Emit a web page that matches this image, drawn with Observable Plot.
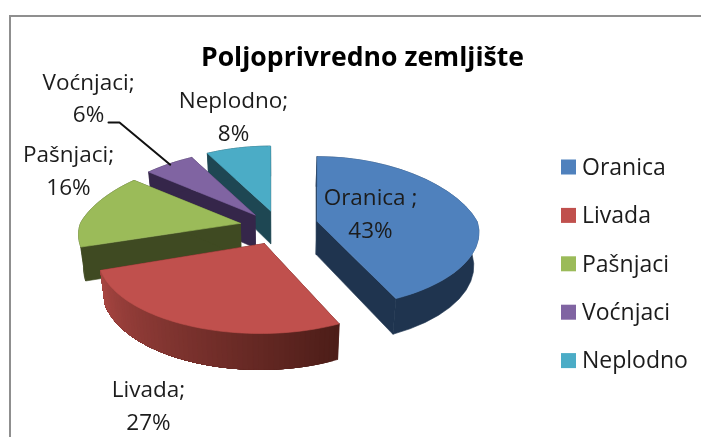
<!DOCTYPE html>
<html>
<head>
<meta charset="utf-8">
<script src="https://cdn.jsdelivr.net/npm/d3@7"></script>
<script src="https://cdn.jsdelivr.net/npm/@observablehq/plot@0.6"></script>
<style>
  html, body { margin: 0; padding: 0; background: #fff; overflow: hidden; }
  #wrap { position: relative; width: 701px; height: 437px; filter: blur(0.45px); }
  #frame { position: absolute; left: 9px; top: 15px; right: -4px; bottom: -4px; border: 2px solid #8f8f8f; box-sizing: border-box; }
  #chart { position: absolute; left: 0; top: 0; }
  svg { display: block; background: transparent; }
</style>
</head>
<body>
<div id="wrap"><div id="frame"></div><div id="chart"></div></div>
<script>
// Data
const chartTitle = "Poljoprivredno zemljište";
const categories = ["Oranica", "Livada", "Pašnjaci", "Voćnjaci", "Neplodno"];
const shares = [43, 27, 16, 6, 8];
const labelNames = ["Oranica ;", "Livada;", "Pašnjaci;", "Voćnjaci;", "Neplodno;"];

// Styles
const topColors = ["#4F81BD", "#C0504D", "#9BBB59", "#8064A2", "#4BACC6"];
const wallStart = ["#1F344F", "#4C1D18", "#3F4A22", "#35264A", "#1E4753"];
const wallEnd = ["#1F344F", "#A84642", "#3F4A22", "#35264A", "#1E4753"];

// Layout of the 3D pie
const centre = [276, 226];
const explode = [0.26, 0.27, 0.23, 0.24, 0.25];
const nudge = [[0, -1], [1, 2], [0, 0], [3, 2], [4, 2]];
const apexShift = [[0, 0], [4, -3], [0, 0], [0, 0], [0, 0]];
const rx = 160, ry = 73, depth = 33, vanishX = 275;
const paintOrder = [4, 3, 2, 0, 1];
const labelAnchors = [[370, 210.5], [148, 402.5], [68, 167.5], [88, 95], [233, 113.5]];
const legendX = 561, legendTop = 167, legendStep = 48.4, legendSize = 15;

const arcs = d3.pie().sort(null).startAngle(0).endAngle(2 * Math.PI)(shares);
const apex = arcs.map((a, i) => {
  const m = (a.startAngle + a.endAngle) / 2;
  return [
    centre[0] + rx * explode[i] * Math.sin(m) + nudge[i][0],
    centre[1] - ry * explode[i] * Math.cos(m) + nudge[i][1]
  ];
});
function topPt(i, th, r) {
  const u = r * Math.sin(th), v = r * Math.cos(th);
  const sx = 1 / (1 + (v > 0 ? 0.25 : 0.15) * v);
  const sy = 1 / (1 + (v > 0 ? 0.128 : 0.16) * v);
  const sh = r === 0 ? apexShift[i] : [0, 0];
  return [apex[i][0] + rx * u * sx + sh[0], apex[i][1] - ry * v * sy + sh[1], v];
}
function botPt(i, th, r) {
  const [x, y, v] = topPt(i, th, r);
  return [x - (x - vanishX) * 0.025, y + depth * (1 - 0.09 * v)];
}
const polys = [];
function poly(id, fill, pts) {
  [...pts, pts[0]].forEach(p => polys.push({id, fill, x: p[0], y: p[1]}));
}
// A wall band along the rim between two angles
function band(i, t0, t1) {
  const steps = d3.range(0, 25).map(k => t0 + (t1 - t0) * k / 24);
  return [...steps.map(t => topPt(i, t, 1)), ...steps.slice().reverse().map(t => botPt(i, t, 1))];
}
for (const i of paintOrder) {
  const a0 = arcs[i].startAngle, a1 = arcs[i].endAngle;
  poly(`w0${i}`, wallStart[i], [topPt(i, a0, 0), topPt(i, a0, 1), botPt(i, a0, 1), botPt(i, a0, 0)]);
  poly(`w1${i}`, wallStart[i], [topPt(i, a1, 0), topPt(i, a1, 1), botPt(i, a1, 1), botPt(i, a1, 0)]);
  if (wallStart[i] === wallEnd[i]) {
    poly(`s${i}`, wallStart[i], band(i, a0, a1));
  } else {
    // Gradient: painted from the far end back, each band overlapping the previous one
    const n = 60;
    const mix = d3.interpolateRgb(wallStart[i], wallEnd[i]);
    for (let k = 0; k < n; k++) {
      poly(`s${i}-${k}`, d3.color(mix((k + 0.5) / n)).formatHex(),
        band(i, a0 + (a1 - a0) * k / n, a1));
    }
  }
  const face = [topPt(i, a0, 0)];
  for (let k = 0; k <= 60; k++) face.push(topPt(i, a0 + (a1 - a0) * k / 60, 1));
  poly(`t${i}`, topColors[i], face);
}

const pct = d3.sum(shares);
const labelRows = categories.map((c, i) => ({
  text: `${labelNames[i]}\n${Math.round(shares[i] / pct * 100)}%`,
  x: labelAnchors[i][0], y: labelAnchors[i][1]
}));
const legendRows = categories.map((c, i) => ({
  name: c, fill: topColors[i], yc: legendTop + i * legendStep
}));
// Leader from the Voćnjaci label to its slice
const leaderRows = [
  {x: labelAnchors[3][0] + 20, y: labelAnchors[3][1] + 27},
  {x: labelAnchors[3][0] + 31, y: labelAnchors[3][1] + 27},
  {x: (topPt(3, arcs[3].startAngle, 1)[0] + topPt(3, arcs[3].endAngle, 1)[0]) / 2,
   y: (topPt(3, arcs[3].startAngle, 1)[1] + topPt(3, arcs[3].endAngle, 1)[1]) / 2}
];

const font = "Open Sans";
const plot = Plot.plot({
  width: 701, height: 437,
  margin: 0,
  x: {domain: [0, 701], range: [0, 701], axis: null},
  y: {domain: [0, 437], range: [0, 437], axis: null},
  color: {type: "identity"},
  style: {background: "transparent"},
  marks: [
    Plot.line(polys, {x: "x", y: "y", z: "id", fill: "fill", stroke: "fill", strokeWidth: 0.6}),
    Plot.line(leaderRows, {x: "x", y: "y", stroke: "#111", strokeWidth: 2}),
    Plot.text(labelRows, {x: "x", y: "y", text: "text", fontFamily: font, fontSize: 22.5, lineHeight: 1.45, fill: "#1c1c1c", textAnchor: "middle"}),
    Plot.rect(legendRows, {x1: () => legendX, x2: () => legendX + legendSize, y1: d => d.yc - legendSize / 2, y2: d => d.yc + legendSize / 2, fill: "fill"}),
    Plot.text(legendRows, {x: () => legendX + 20.5, y: "yc", text: "name", fontFamily: font, fontSize: 23, fill: "#1c1c1c", textAnchor: "start"}),
    Plot.text([chartTitle], {x: () => 362, y: () => 57, text: d => d, fontFamily: font, fontSize: 26.6, fontWeight: 700, fill: "#000", textAnchor: "middle"})
  ]
});
document.getElementById("chart").appendChild(plot);
</script>
</body>
</html>
